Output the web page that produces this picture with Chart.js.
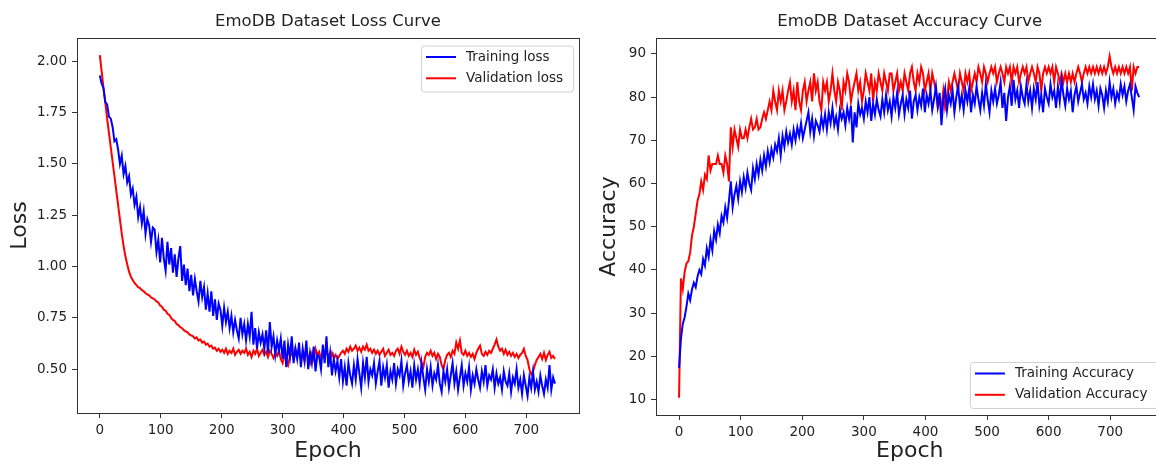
<!DOCTYPE html>
<html>
<head>
<meta charset="utf-8">
<script src="https://cdn.jsdelivr.net/npm/chart.js@4.4.1/dist/chart.umd.min.js"></script>
<style>
    html, body { margin: 0; padding: 0; background: #fff; overflow: hidden; width: 1156px; height: 464px; }
    canvas { position: absolute; top: 0; }
    #chartLoss { left: 0; }
    #chartAcc { left: 590px; }
</style>
</head>
<body>
<canvas id="chartLoss" width="590" height="464"></canvas>
<canvas id="chartAcc" width="600" height="464"></canvas>
<script>
// --- Datos (una muestra cada 3 épocas) ---
const STEP = 3;

const trainLoss = [
    1.93, 1.89, 1.87, 1.80, 1.79, 1.73, 1.72, 1.68, 1.61, 1.62,
    1.57, 1.50, 1.54, 1.45, 1.49, 1.41, 1.44, 1.35, 1.38, 1.30,
    1.34, 1.24, 1.29, 1.21, 1.27, 1.16, 1.23, 1.20, 1.12, 1.19,
    1.18, 1.07, 1.13, 1.02, 1.14, 1.04, 0.98, 1.12, 1.01, 1.09,
    0.97, 1.06, 0.95, 1.04, 1.10, 0.93, 1.01, 0.91, 0.99, 0.88,
    0.96, 0.86, 0.94, 0.88, 0.83, 0.93, 0.85, 0.90, 0.79, 0.87,
    0.78, 0.88, 0.76, 0.84, 0.74, 0.82, 0.79, 0.71, 0.80, 0.73,
    0.78, 0.70, 0.76, 0.68, 0.74, 0.69, 0.65, 0.75, 0.67, 0.72,
    0.64, 0.72, 0.66, 0.78, 0.62, 0.70, 0.60, 0.68, 0.63, 0.67,
    0.60, 0.69, 0.58, 0.73, 0.61, 0.66, 0.57, 0.64, 0.59, 0.65,
    0.55, 0.64, 0.51, 0.62, 0.56, 0.66, 0.53, 0.60, 0.55, 0.63,
    0.51, 0.60, 0.54, 0.64, 0.50, 0.58, 0.53, 0.61, 0.49, 0.57,
    0.56, 0.50, 0.62, 0.53, 0.66, 0.51, 0.58, 0.47, 0.55, 0.49,
    0.54, 0.46, 0.55, 0.44, 0.51, 0.42, 0.53, 0.47, 0.43, 0.52,
    0.45, 0.55, 0.48, 0.41, 0.53, 0.46, 0.56, 0.44, 0.50, 0.47,
    0.53, 0.43, 0.49, 0.54, 0.42, 0.51, 0.46, 0.52, 0.41, 0.49,
    0.45, 0.53, 0.43, 0.50, 0.47, 0.54, 0.42, 0.48, 0.52, 0.44,
    0.49, 0.41, 0.52, 0.45, 0.50, 0.43, 0.53, 0.46, 0.40, 0.50,
    0.44, 0.51, 0.42, 0.48, 0.45, 0.52, 0.43, 0.39, 0.49, 0.44,
    0.50, 0.41, 0.47, 0.53, 0.43, 0.49, 0.40, 0.46, 0.52, 0.42,
    0.48, 0.44, 0.51, 0.40, 0.47, 0.43, 0.50, 0.45, 0.41, 0.49,
    0.44, 0.52, 0.42, 0.47, 0.45, 0.50, 0.41, 0.48, 0.43, 0.46,
    0.40, 0.49, 0.44, 0.42, 0.48, 0.39, 0.46, 0.43, 0.50, 0.41,
    0.45, 0.38, 0.47, 0.42, 0.37, 0.46, 0.41, 0.49, 0.40, 0.44,
    0.39, 0.47, 0.42, 0.38, 0.45, 0.41, 0.52, 0.40, 0.46, 0.43
];
const valLoss = [
    2.03, 1.95, 1.87, 1.80, 1.72, 1.65, 1.58, 1.51, 1.44, 1.37,
    1.30, 1.23, 1.16, 1.10, 1.05, 1.01, 0.975, 0.95, 0.935, 0.92,
    0.91, 0.90, 0.895, 0.885, 0.88, 0.87, 0.865, 0.86, 0.85, 0.845,
    0.84, 0.83, 0.825, 0.81, 0.805, 0.79, 0.785, 0.77, 0.765, 0.75,
    0.74, 0.735, 0.72, 0.715, 0.705, 0.70, 0.69, 0.685, 0.68, 0.67,
    0.665, 0.66, 0.65, 0.655, 0.64, 0.645, 0.63, 0.635, 0.62, 0.625,
    0.61, 0.615, 0.60, 0.605, 0.59, 0.60, 0.585, 0.595, 0.58, 0.60,
    0.575, 0.59, 0.58, 0.60, 0.57, 0.585, 0.595, 0.575, 0.59, 0.58,
    0.60, 0.57, 0.585, 0.56, 0.59, 0.575, 0.60, 0.565, 0.58, 0.595,
    0.57, 0.585, 0.56, 0.59, 0.575, 0.555, 0.58, 0.565, 0.59, 0.55,
    0.53, 0.57, 0.545, 0.52, 0.56, 0.585, 0.55, 0.60, 0.565, 0.58,
    0.55, 0.575, 0.54, 0.59, 0.56, 0.53, 0.575, 0.55, 0.60, 0.57,
    0.585, 0.55, 0.575, 0.56, 0.59, 0.565, 0.545, 0.58, 0.555, 0.57,
    0.55, 0.565, 0.58, 0.59, 0.575, 0.60, 0.585, 0.61, 0.59, 0.60,
    0.615, 0.59, 0.605, 0.585, 0.61, 0.595, 0.62, 0.59, 0.60, 0.58,
    0.595, 0.575, 0.59, 0.57, 0.585, 0.60, 0.565, 0.58, 0.595, 0.57,
    0.58, 0.565, 0.59, 0.60, 0.575, 0.61, 0.585, 0.57, 0.59, 0.565,
    0.58, 0.56, 0.595, 0.57, 0.585, 0.555, 0.53, 0.51, 0.56, 0.58,
    0.57, 0.59, 0.565, 0.58, 0.55, 0.575, 0.56, 0.52, 0.50, 0.545,
    0.57, 0.58, 0.56, 0.59, 0.575, 0.63, 0.60, 0.64, 0.58, 0.57,
    0.59, 0.565, 0.58, 0.56, 0.575, 0.55, 0.58, 0.60, 0.615, 0.575,
    0.565, 0.585, 0.57, 0.59, 0.58, 0.60, 0.62, 0.645, 0.61, 0.59,
    0.60, 0.575, 0.595, 0.57, 0.585, 0.565, 0.58, 0.56, 0.575, 0.555,
    0.57, 0.58, 0.60, 0.565, 0.545, 0.50, 0.475, 0.49, 0.52, 0.545,
    0.56, 0.575, 0.55, 0.58, 0.545, 0.57, 0.585, 0.555, 0.565, 0.55
];
const trainAcc = [
    17.3, 24.0, 27.5, 29.0, 31.5, 34.5, 33.0, 35.5, 37.0, 36.0,
    38.5, 40.0, 39.0, 42.5, 41.0, 45.0, 43.0, 47.0, 44.5, 49.0,
    47.0, 50.5, 48.5, 52.5, 51.0, 54.5, 52.0, 56.0, 60.5, 54.5,
    57.5, 59.5, 56.5, 60.5, 58.0, 61.5, 59.0, 62.5, 60.0, 58.5,
    63.5, 61.0, 64.5, 62.0, 65.5, 63.0, 66.5, 64.0, 67.5, 65.0,
    68.0, 66.0, 69.0, 67.5, 70.5, 66.5, 71.0, 68.5, 72.0, 69.5,
    71.5, 69.0, 72.5, 70.0, 73.0, 71.0, 74.0, 70.5, 72.5, 74.5,
    76.5, 72.0, 75.0, 71.0, 74.5, 73.5, 72.0, 75.5, 73.0, 76.0,
    72.5, 76.5, 74.0, 77.5, 73.5, 75.5, 72.5, 77.0, 75.0, 76.5,
    73.5, 77.5, 75.0, 78.0, 69.5, 76.5, 73.0, 78.5, 76.0, 77.5,
    75.0, 79.0, 76.5, 80.0, 74.5, 78.5, 76.0, 79.5, 77.0, 75.5,
    79.5, 76.5, 80.5, 77.0, 79.0, 75.5, 80.0, 77.5, 81.0, 76.0,
    78.5, 80.5, 76.0, 79.5, 77.5, 81.5, 75.0, 79.0, 80.5, 77.0,
    80.0, 78.0, 82.0, 76.5, 80.5, 78.5, 81.5, 77.0, 79.5, 82.5,
    78.0, 81.0, 73.5, 79.5, 82.0, 77.0, 80.5, 78.5, 81.5, 76.5,
    80.0, 82.5, 78.0, 80.5, 77.0, 81.5, 79.0, 82.0, 76.5, 80.5,
    78.5, 82.5, 79.5, 77.0, 81.0, 78.0, 83.0, 79.5, 76.5, 81.5,
    79.0, 82.0, 78.5, 80.5, 83.5, 77.5, 81.0, 74.5, 80.0, 82.5,
    78.0, 84.0, 79.5, 81.5, 77.5, 82.5, 80.0, 78.5, 83.0, 79.0,
    81.5, 77.5, 82.0, 79.5, 83.5, 78.0, 80.5, 76.5, 82.0, 80.0,
    78.5, 83.0, 80.0, 81.5, 77.5, 82.5, 79.0, 84.0, 80.5, 78.0,
    82.0, 79.5, 81.5, 76.5, 80.5, 82.5, 79.0, 81.0, 83.0, 79.5,
    81.0, 78.5, 82.5, 80.0, 83.0, 79.5, 81.5, 78.0, 82.0, 80.5,
    77.5, 81.5, 79.0, 83.5, 80.0, 82.0, 78.5, 81.0, 79.5, 83.0,
    80.5, 82.5, 79.0, 81.5, 83.0, 80.0, 77.0, 82.5, 81.0, 80.0
];
const valAcc = [
    10.4, 38.0, 35.5, 39.5, 41.5, 42.0, 44.0, 48.0, 50.0, 53.0,
    56.0, 57.5, 60.5, 58.5, 62.0, 61.0, 66.5, 63.0, 64.5, 64.5,
    64.5, 66.5, 64.5, 64.5, 62.5, 66.5, 64.5, 60.5, 73.0, 68.5,
    72.5, 70.5, 68.5, 72.5, 70.5, 70.5, 72.5, 70.5, 73.0, 75.0,
    72.5, 73.0, 75.0, 72.5, 73.0, 75.0, 76.5, 75.0, 77.0, 79.0,
    77.0, 81.5, 79.0, 77.0, 81.5, 79.0, 81.5, 77.0, 79.0, 81.5,
    83.5, 79.0, 81.5, 77.0, 83.5, 79.0, 77.0, 81.5, 83.5, 79.0,
    81.5, 83.5, 79.0, 85.5, 81.5, 83.5, 79.0, 77.0, 83.5, 81.5,
    83.5, 79.0, 81.5, 85.5, 81.5, 79.0, 83.5, 81.5, 77.0, 83.5,
    81.5, 85.5, 83.5, 79.0, 81.5, 83.5, 85.5, 81.5, 83.5, 79.0,
    81.5, 85.5, 83.5, 81.5, 85.5, 79.0, 83.5, 81.5, 85.5, 83.5,
    81.5, 85.5, 83.5, 81.5, 85.5, 85.5, 81.5, 83.5, 85.5, 81.5,
    83.5, 81.5, 85.5, 83.5, 81.5, 85.5, 87.0, 83.5, 81.5, 85.5,
    83.5, 87.0, 85.5, 81.5, 83.5, 85.5, 81.5, 85.5, 83.5, 81.5,
    77.5, 79.5, 77.5, 81.5, 77.5, 79.5, 83.5, 81.5, 83.5, 85.5,
    83.5, 81.5, 85.5, 83.5, 81.5, 85.5, 83.5, 85.5, 81.5, 83.5,
    85.5, 83.5, 87.0, 85.5, 83.5, 87.0, 85.5, 83.5, 85.5, 87.0,
    85.5, 87.0, 83.5, 85.5, 87.0, 85.5, 83.5, 87.0, 85.5, 87.0,
    83.5, 87.0, 85.5, 87.0, 83.5, 85.5, 87.0, 85.5, 87.0, 83.5,
    85.5, 87.0, 85.5, 83.5, 87.0, 85.5, 81.5, 85.5, 87.0, 85.5,
    87.0, 85.5, 87.0, 83.5, 87.0, 85.5, 83.5, 85.5, 83.5, 85.5,
    83.5, 85.5, 83.5, 85.5, 83.5, 85.5, 87.0, 85.5, 83.5, 85.5,
    87.0, 85.5, 87.0, 85.5, 87.0, 85.5, 87.0, 85.5, 87.0, 85.5,
    87.0, 85.5, 87.0, 89.5, 87.0, 85.5, 87.0, 85.5, 87.0, 85.5,
    87.0, 85.5, 87.0, 85.5, 87.0, 81.5, 87.0, 85.5, 87.0, 87.0
];

const epochTicks = [0, 100, 200, 300, 400, 500, 600, 700];
const lossTicks = [0.50, 0.75, 1.00, 1.25, 1.50, 1.75, 2.00];
const accTicks = [10, 20, 30, 40, 50, 60, 70, 80, 90];

const epochs = trainLoss.map((_, i) => i * STEP);

// --- Estilo general ---
const FONT = '"DejaVu Sans", sans-serif';
const TEXT = '#222222';
Chart.defaults.font.family = FONT;
Chart.defaults.color = TEXT;

function toPoints(values) {
    return values.map((v, i) => ({ x: epochs[i], y: v }));
}

function lineSet(label, values, color) {
    return {
        label: label,
        data: toPoints(values),
        borderColor: color,
        backgroundColor: color,
        borderWidth: 2,
        pointRadius: 0,
        tension: 0,
        fill: false
    };
}

// --- Plugin: marco, título y leyenda estilo matplotlib ---
const mplFrame = {
    id: 'mplFrame',
    afterDraw(chart, args, opts) {
        const { ctx, chartArea: a } = chart;
        ctx.save();
        ctx.strokeStyle = '#333333';
        ctx.lineWidth = 1;
        ctx.strokeRect(Math.round(a.left) + 0.5, Math.round(a.top) + 0.5,
            Math.round(a.right - a.left), Math.round(a.bottom - a.top));

        // título
        ctx.fillStyle = TEXT;
        ctx.font = '16.5px ' + FONT;
        ctx.textAlign = 'center';
        ctx.textBaseline = 'middle';
        ctx.fillText(opts.title, (a.left + a.right) / 2, 22);

        // leyenda
        ctx.font = '13.5px ' + FONT;
        const items = chart.data.datasets;
        const textW = Math.max(...items.map(d => ctx.measureText(d.label).width));
        const w = 45 + textW + 10;
        const h = 46;
        const x = a.right - 6 - w;
        const y = opts.corner === 'upper right' ? a.top + 7.5 : a.bottom - 7 - h;
        ctx.beginPath();
        ctx.roundRect(x + 0.5, y + 0.5, w, h, 3);
        ctx.fillStyle = 'rgba(255,255,255,0.8)';
        ctx.fill();
        ctx.strokeStyle = '#d0d0d0';
        ctx.stroke();
        ctx.textAlign = 'left';
        items.forEach((d, i) => {
            const ly = y + 11.5 + i * 21.3;
            ctx.strokeStyle = d.borderColor;
            ctx.lineWidth = 2;
            ctx.beginPath();
            ctx.moveTo(x + 5, ly);
            ctx.lineTo(x + 35, ly);
            ctx.stroke();
            ctx.fillStyle = TEXT;
            ctx.fillText(d.label, x + 45, ly);
        });
        ctx.restore();
    }
};

function axisX(height) {
    return {
        type: 'linear',
        min: -37.45,
        max: 786.45,
        afterBuildTicks: s => { s.ticks = epochTicks.map(v => ({ value: v })); },
        afterFit: s => { s.height = height; },
        border: { display: false },
        grid: { drawOnChartArea: false, drawTicks: true, tickLength: 5, color: '#333333' },
        ticks: { autoSkip: false, maxRotation: 0, padding: 4, font: { size: 13.5 }, color: TEXT },
        title: { display: true, text: 'Epoch', font: { size: 22 }, padding: { top: 0, bottom: 0 }, color: TEXT }
    };
}

function axisY(min, max, tickValues, label, width, titlePad, fmt) {
    return {
        type: 'linear',
        min: min,
        max: max,
        afterBuildTicks: s => { s.ticks = tickValues.map(v => ({ value: v })); },
        afterFit: s => { s.width = width; },
        border: { display: false },
        grid: { drawOnChartArea: false, drawTicks: true, tickLength: 5, color: '#333333' },
        ticks: { autoSkip: false, padding: 5, font: { size: 13.5 }, color: TEXT, callback: fmt },
        title: { display: true, text: label, font: { size: 22 }, padding: { top: titlePad, bottom: 0 }, color: TEXT }
    };
}

// --- Gráfica de pérdida ---
new Chart(document.getElementById('chartLoss'), {
    type: 'line',
    data: {
        datasets: [
            lineSet('Training loss', trainLoss, '#0000ff'),
            lineSet('Validation loss', valLoss, '#ff0000')
        ]
    },
    options: {
        responsive: false,
        animation: false,
        layout: { padding: { top: 38, right: 11, bottom: 0, left: 0 } },
        scales: {
            x: axisX(51),
            y: axisY(0.287, 2.113, lossTicks, 'Loss', 77, 7, v => v.toFixed(2))
        },
        plugins: {
            legend: { display: false },
            tooltip: { enabled: false },
            mplFrame: { title: 'EmoDB Dataset Loss Curve', corner: 'upper right' }
        }
    },
    plugins: [mplFrame]
});

// --- Gráfica de precisión ---
new Chart(document.getElementById('chartAcc'), {
    type: 'line',
    data: {
        datasets: [
            lineSet('Training Accuracy', trainAcc, '#0000ff'),
            lineSet('Validation Accuracy', valAcc, '#ff0000')
        ]
    },
    options: {
        responsive: false,
        animation: false,
        layout: { padding: { top: 38, right: 26.5, bottom: 0, left: 0 } },
        scales: {
            x: axisX(49),
            y: axisY(6.4, 93.7, accTicks, 'Accuracy', 66, 6, v => String(v))
        },
        plugins: {
            legend: { display: false },
            tooltip: { enabled: false },
            mplFrame: { title: 'EmoDB Dataset Accuracy Curve', corner: 'lower right' }
        }
    },
    plugins: [mplFrame]
});
</script>
</body>
</html>
